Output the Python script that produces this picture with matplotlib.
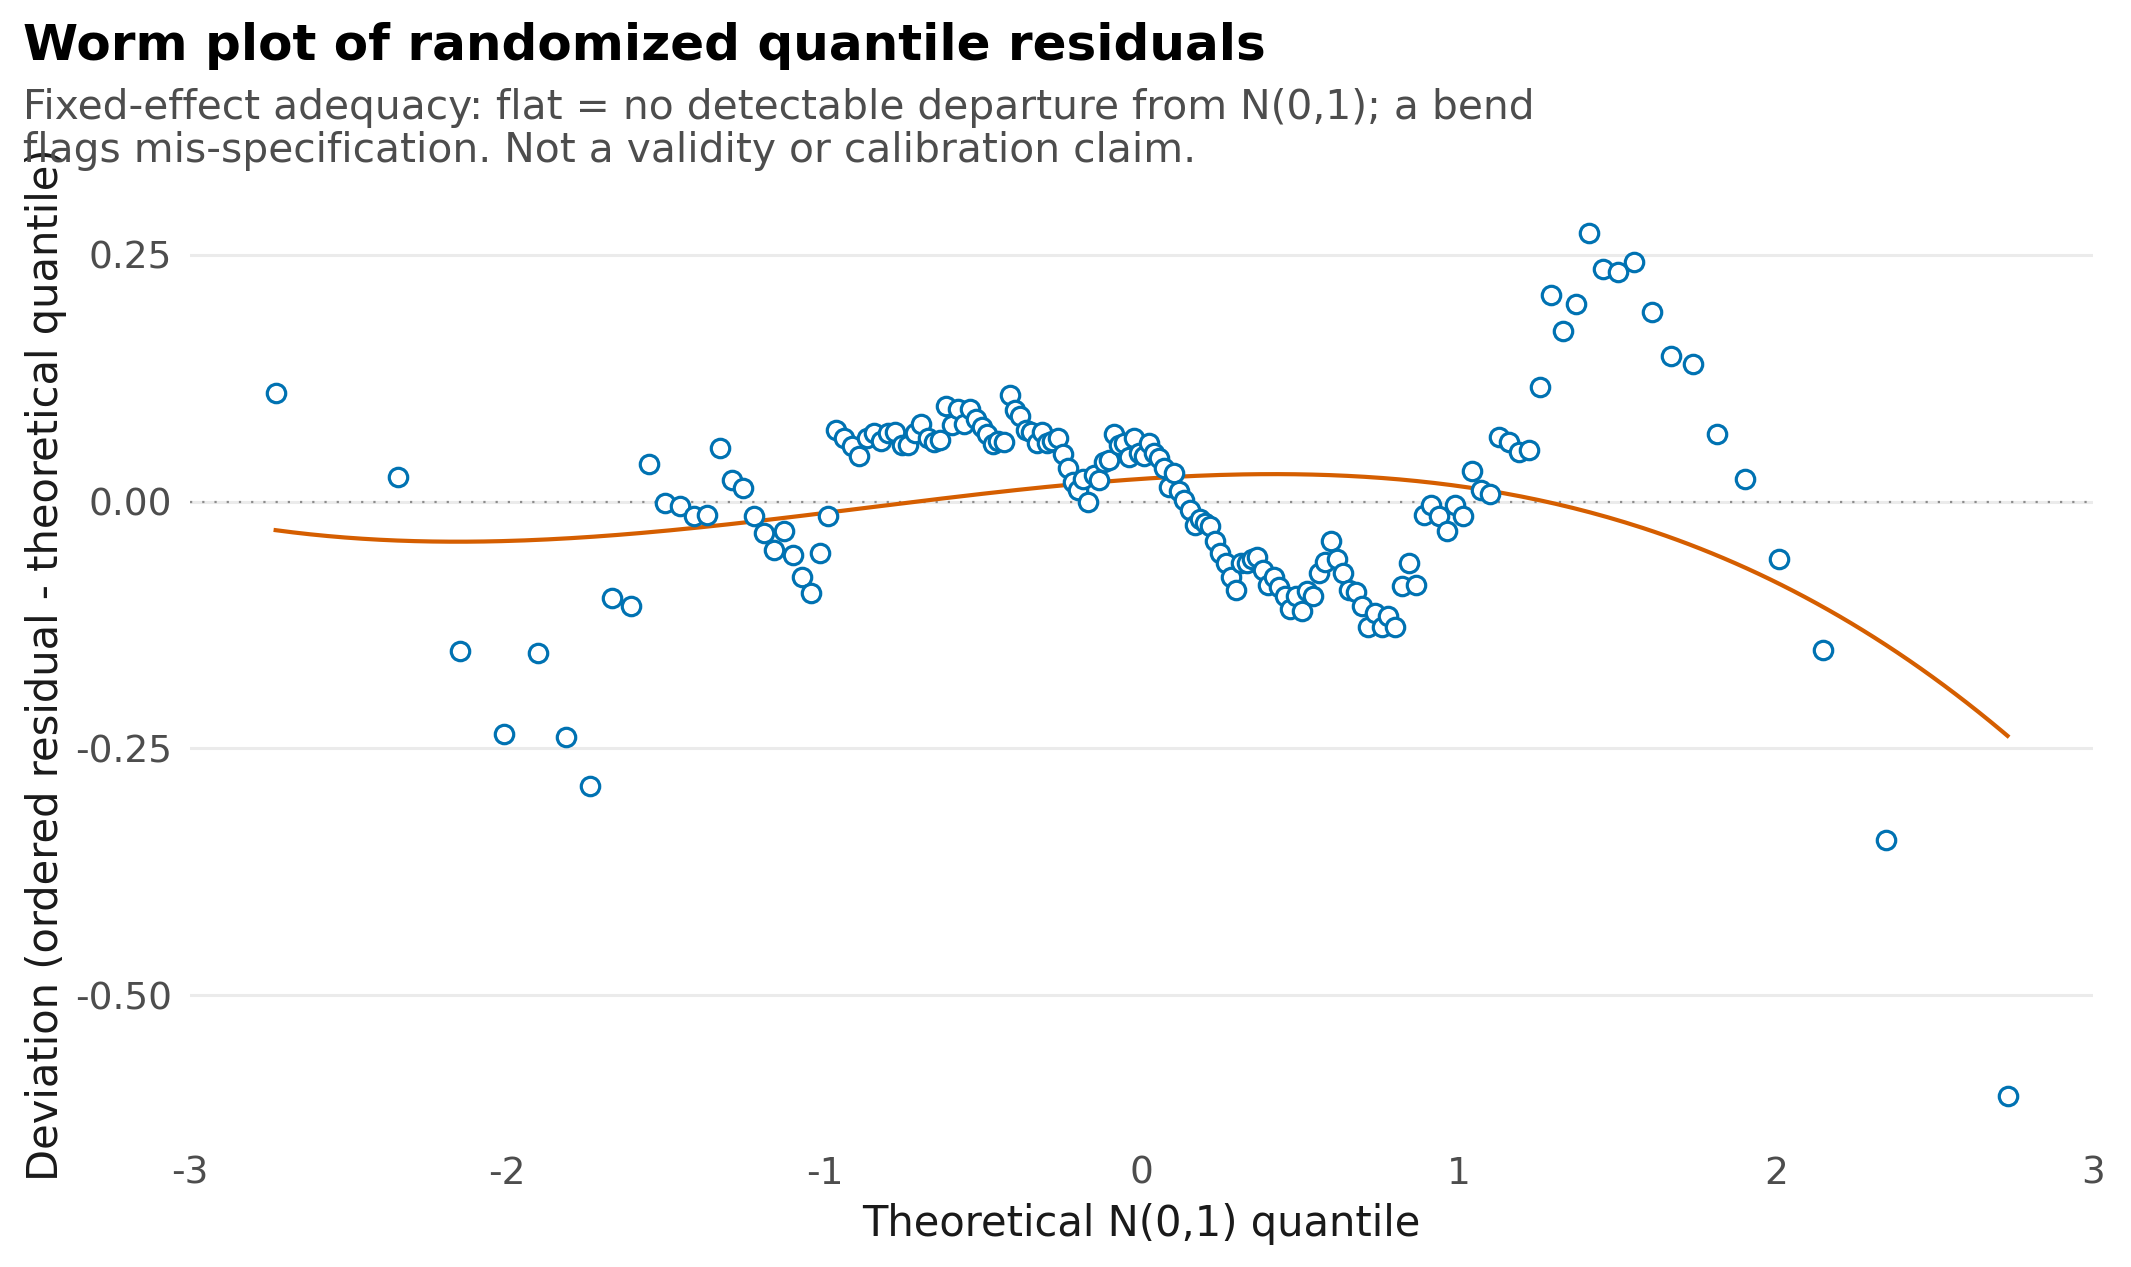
import numpy as np
import matplotlib
matplotlib.use("Agg")
import matplotlib.pyplot as plt
from statistics import NormalDist

# Ordered deviations (ordered residual - theoretical quantile)
deviation = [
    0.110, 0.025, -0.151, -0.235, -0.153, -0.238, -0.288, -0.098, -0.106, 0.038,
    -0.001, -0.004, -0.015, -0.013, 0.054, 0.022, 0.014, -0.015, -0.032, -0.049,
    -0.030, -0.054, -0.076, -0.093, -0.052, -0.015, 0.073, 0.065, 0.056, 0.046,
    0.065, 0.070, 0.061, 0.070, 0.071, 0.057, 0.057, 0.070, 0.079, 0.064,
    0.060, 0.062, 0.097, 0.078, 0.094, 0.079, 0.094, 0.084, 0.076, 0.069,
    0.058, 0.061, 0.060, 0.108, 0.093, 0.087, 0.073, 0.071, 0.059, 0.071,
    0.059, 0.061, 0.064, 0.048, 0.034, 0.020, 0.012, 0.023, 0.000, 0.027,
    0.022, 0.040, 0.042, 0.069, 0.057, 0.059, 0.045, 0.064, 0.049, 0.046,
    0.059, 0.049, 0.044, 0.034, 0.015, 0.029, 0.011, 0.002, -0.008, -0.024,
    -0.018, -0.022, -0.025, -0.040, -0.052, -0.062, -0.076, -0.089, -0.062, -0.062,
    -0.058, -0.056, -0.069, -0.084, -0.076, -0.086, -0.096, -0.109, -0.096, -0.111,
    -0.091, -0.096, -0.072, -0.061, -0.040, -0.058, -0.072, -0.089, -0.092, -0.106,
    -0.127, -0.113, -0.127, -0.116, -0.127, -0.085, -0.062, -0.084, -0.014, -0.003,
    -0.015, -0.030, -0.003, -0.015, 0.031, 0.012, 0.008, 0.066, 0.060, 0.050,
    0.052, 0.116, 0.209, 0.173, 0.200, 0.272, 0.236, 0.233, 0.243, 0.192,
    0.148, 0.139, 0.069, 0.023, -0.058, -0.150, -0.343, -0.602,
]
x_ticks = [-3, -2, -1, 0, 1, 2, 3]
y_ticks = [-0.50, -0.25, 0.00, 0.25]

title = "Worm plot of randomized quantile residuals"
subtitle_lines = [
    "Fixed-effect adequacy: flat = no detectable departure from N(0,1); a bend",
    "flags mis-specification. Not a validity or calibration claim.",
]
x_label = "Theoretical N(0,1) quantile"
y_label = "Deviation (ordered residual - theoretical quantile)"

# theoretical N(0,1) quantiles for the ranks (Hazen plotting positions)
n = len(deviation)
dev = np.array(deviation)
theo = np.array([NormalDist().inv_cdf((i - 0.5) / n) for i in range(1, n + 1)])

# cubic worm fit
coef = np.polyfit(theo, dev, 3)
xs = np.linspace(theo.min(), theo.max(), 300)
ys = np.polyval(coef, xs)

plt.rcParams["font.family"] = ["DejaVu Sans"]
plt.rcParams["axes.unicode_minus"] = False

fig = plt.figure(figsize=(10.655, 6.335), dpi=200)
ax = fig.add_axes([0.0892, 0.101, 0.9822 - 0.0892, 0.850 - 0.101])

for yt in y_ticks:
    ax.axhline(yt, color="#ebebeb", lw=1.1, zorder=0)
ax.axhline(0, color="#8c8c8c", lw=0.8, linestyle=(0, (1, 4.5)), zorder=1)

ax.plot(xs, ys, color="#D55E00", lw=1.5, zorder=2)
ax.scatter(theo, dev, s=44, facecolor="white", edgecolor="#0072B2",
           linewidths=1.15, zorder=3)

ax.set_xlim(-3, 3)
rng = dev.max() - dev.min()
ax.set_ylim(dev.min() - 0.05 * rng, dev.max() + 0.05 * rng)
ax.set_xticks(x_ticks)
ax.set_xticklabels([f"{v:d}" for v in x_ticks])
ax.set_yticks(y_ticks)
ax.set_yticklabels([f"{v:.2f}" for v in y_ticks])
ax.tick_params(axis="both", length=0, labelsize=13.5, labelcolor="#4d4d4d")
ax.tick_params(axis="x", pad=6)
ax.tick_params(axis="y", pad=6.5)
for s in ax.spines.values():
    s.set_visible(False)

ax.set_xlabel(x_label, fontsize=15, color="#1a1a1a", labelpad=4)
ax.set_ylabel(y_label, fontsize=15, color="#1a1a1a", labelpad=3)

fig.text(0.0108, 0.953, title, fontsize=18, fontweight="bold", color="black",
         ha="left", va="baseline")
fig.text(0.0108, 0.9057, subtitle_lines[0], fontsize=14.7, color="#4d4d4d",
         ha="left", va="baseline")
fig.text(0.0108, 0.8725, subtitle_lines[1], fontsize=14.7, color="#4d4d4d",
         ha="left", va="baseline")

fig.savefig("out.png", dpi=200, facecolor="white")
